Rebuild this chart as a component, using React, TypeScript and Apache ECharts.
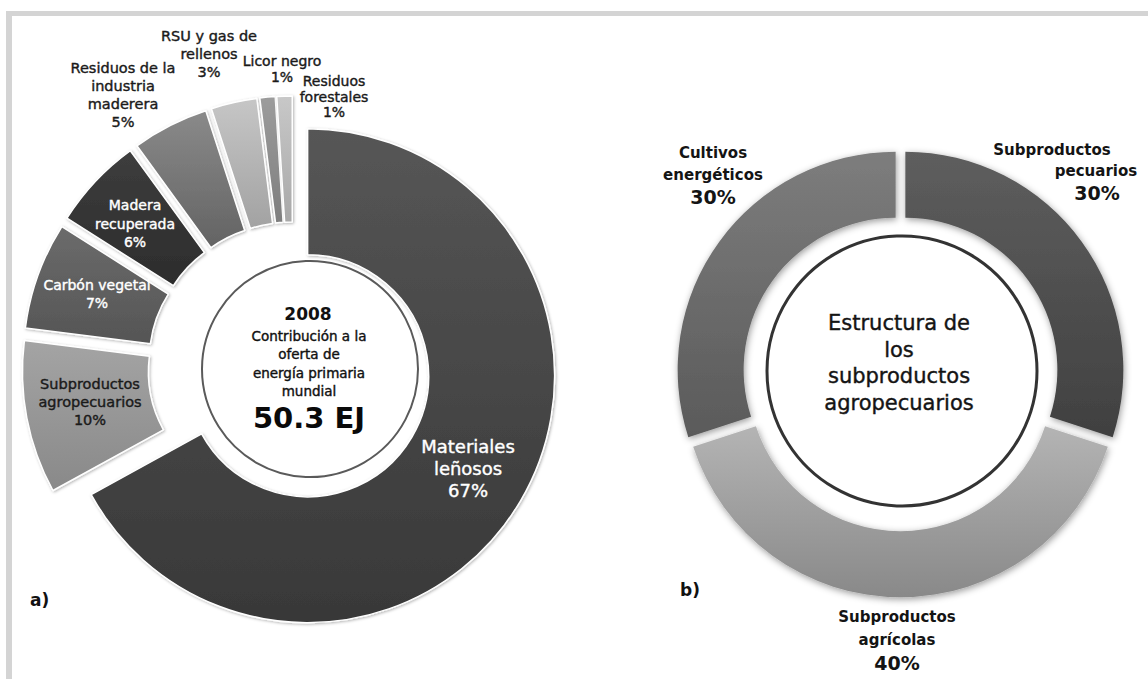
import React, { useEffect, useRef } from "react";
import * as echarts from "echarts";

// ---------- data ----------
const woodCategories = [
  "Materiales leñosos",
  "Subproductos agropecuarios",
  "Carbón vegetal",
  "Madera recuperada",
  "Residuos de la industria maderera",
  "RSU y gas de rellenos",
  "Licor negro",
  "Residuos forestales",
];
const woodLabelText = [
  "Materiales\nleñosos",
  "Subproductos\nagropecuarios",
  "Carbón vegetal",
  "Madera\nrecuperada",
  "Residuos de la\nindustria\nmaderera",
  "RSU y gas de\nrellenos",
  "Licor negro",
  "Residuos\nforestales",
];
const woodShares = [67, 10, 7, 6, 5, 3, 1, 1];

const agroCategories = ["Subproductos pecuarios", "Subproductos agrícolas", "Cultivos energéticos"];
const agroLabelText = ["Subproductos\npecuarios", "Subproductos\nagrícolas", "Cultivos\nenergéticos"];
const agroShares = [30, 40, 30];

const centerAYear = "2008";
const centerALines = ["Contribución a la", "oferta de", "energía primaria", "mundial"];
const centerATotal = "50.3 EJ";
const centerBLines = ["Estructura de", "los", "subproductos", "agropecuarios"];
const panelLetters = ["a)", "b)"];

// ---------- styles ----------
const FONT = "'DejaVu Sans', 'Liberation Sans', sans-serif";
const woodColors: [string, string][] = [
  ["#565656", "#383838"],
  ["#a4a4a4", "#898989"],
  ["#6b6b6b", "#555555"],
  ["#3d3d3d", "#2c2c2c"],
  ["#8a8a8a", "#636363"],
  ["#c6c6c6", "#a2a2a2"],
  ["#9c9c9c", "#7e7e7e"],
  ["#c8c8c8", "#a8a8a8"],
];
const woodTextColors = ["#ffffff", "#1a1a1a", "#ffffff", "#ffffff", "#1a1a1a", "#1a1a1a", "#1a1a1a", "#1a1a1a"];
const woodFontSizes = [18, 14.5, 14, 14, 14.5, 14.5, 14, 14];
const woodLabelPos: [number, number, number][] = [
  // x, first line y, line height
  [468, 446, 22],
  [90, 384, 18],
  [97, 285, 17.5],
  [135, 205, 18.5],
  [123, 68, 18],
  [209, 36, 18],
  [282, 61, 16],
  [334, 81, 15.5],
];

const agroColors: [string, string][] = [
  ["#5e5e5e", "#404040"],
  ["#b4b4b4", "#898989"],
  ["#7d7d7d", "#5a5a5a"],
];
// per line: [x, y]
const agroLabelPos: [number, number][][] = [
  [[1052, 150], [1096, 171], [1097, 193]],
  [[897, 617], [897, 640], [897, 663]],
  [[713, 153], [713, 175], [713, 197]],
];

const grad = (c: [string, string]) =>
  new echarts.graphic.LinearGradient(0, 0, 0, 1, [
    { offset: 0, color: c[0] },
    { offset: 1, color: c[1] },
  ]);

export default function App() {
  const ref = useRef<HTMLDivElement>(null);

  useEffect(() => {
    if (!ref.current) return;
    const chart = echarts.init(ref.current, undefined, { renderer: "svg" });

    const hidden = { color: "rgba(0,0,0,0)", borderWidth: 0, shadowBlur: 0, shadowColor: "rgba(0,0,0,0)" };
    const restSum = woodShares.slice(1).reduce((a, b) => a + b, 0);
    const sliceStyle = {
      borderColor: "#ffffff",
      borderWidth: 1.5,
      shadowBlur: 3,
      shadowOffsetX: 1,
      shadowOffsetY: 1,
      shadowColor: "rgba(0,0,0,0.3)",
    };

    const heavy = (fill: string) => ({ stroke: fill, lineWidth: 0.4 });

    const graphics: any[] = [];
    // frame
    graphics.push({ type: "rect", shape: { x: 6, y: 11, width: 1142, height: 5 }, style: { fill: "#d4d4d4" } });
    graphics.push({ type: "rect", shape: { x: 6, y: 11, width: 6, height: 668 }, style: { fill: "#d4d4d4" } });
    // inner circles
    graphics.push({ type: "circle", shape: { cx: 310, cy: 369, r: 108 }, style: { fill: "#ffffff", stroke: "#5a5a5a", lineWidth: 2 } });
    graphics.push({ type: "circle", shape: { cx: 902, cy: 371, r: 135 }, style: { fill: "#ffffff", stroke: "#333333", lineWidth: 3 } });

    // wood labels
    woodCategories.forEach((_, i) => {
      const lines = woodLabelText[i].split("\n").concat([woodShares[i] + "%"]);
      const [x, y0, lh] = woodLabelPos[i];
      lines.forEach((t, j) => {
        graphics.push({
          type: "text",
          x,
          y: y0 + j * lh,
          z: 100,
          style: {
            text: t,
            fill: woodTextColors[i],
            font: `${woodFontSizes[i]}px ${FONT}`,
            align: "center",
            verticalAlign: "middle",
            ...heavy(woodTextColors[i]),
          },
        });
      });
    });

    // agro labels
    agroCategories.forEach((_, i) => {
      const lines = agroLabelText[i].split("\n").concat([agroShares[i] + "%"]);
      lines.forEach((t, j) => {
        const isPct = j === lines.length - 1;
        graphics.push({
          type: "text",
          x: agroLabelPos[i][j][0],
          y: agroLabelPos[i][j][1],
          z: 100,
          style: {
            text: t,
            fill: "#141414",
            font: `bold ${isPct ? 19 : 15}px ${FONT}`,
            align: "center",
            verticalAlign: "middle",
          },
        });
      });
    });

    // center a
    graphics.push({
      type: "text", x: 308, y: 314, z: 100,
      style: { text: centerAYear, fill: "#111", font: `bold 17px ${FONT}`, align: "center", verticalAlign: "middle" },
    });
    centerALines.forEach((t, j) => {
      graphics.push({
        type: "text", x: 309, y: 336 + j * 18.3, z: 100,
        style: { text: t, fill: "#111", font: `13.5px ${FONT}`, align: "center", verticalAlign: "middle", ...heavy("#111") },
      });
    });
    graphics.push({
      type: "text", x: 309, y: 418, z: 100,
      style: { text: centerATotal, fill: "#0a0a0a", font: `bold 29px ${FONT}`, align: "center", verticalAlign: "middle" },
    });
    // center b
    centerBLines.forEach((t, j) => {
      graphics.push({
        type: "text", x: 899, y: 323 + j * 26.5, z: 100,
        style: { text: t, fill: "#141414", font: `21px ${FONT}`, align: "center", verticalAlign: "middle", ...heavy("#141414") },
      });
    });
    // panel letters
    graphics.push({
      type: "text", x: 30, y: 600, z: 100,
      style: { text: panelLetters[0], fill: "#111", font: `bold 17px ${FONT}`, align: "left", verticalAlign: "middle" },
    });
    graphics.push({
      type: "text", x: 680, y: 590, z: 100,
      style: { text: panelLetters[1], fill: "#111", font: `bold 17px ${FONT}`, align: "left", verticalAlign: "middle" },
    });

    chart.setOption({
      animation: false,
      backgroundColor: "#ffffff",
      graphic: { elements: graphics },
      series: [
        {
          type: "pie",
          center: [293, 367],
          radius: [121, 247],
          startAngle: 90,
          clockwise: true,
          selectedMode: "multiple",
          selectedOffset: 17,
          label: { show: false },
          labelLine: { show: false },
          itemStyle: sliceStyle,
          data: [
            { name: woodCategories[0], value: woodShares[0], selected: true, itemStyle: { color: grad(woodColors[0]) } },
            { name: "resto", value: restSum, itemStyle: hidden },
          ],
        },
        {
          type: "pie",
          center: [293, 367],
          radius: [121, 247],
          startAngle: 90,
          clockwise: true,
          selectedMode: "multiple",
          selectedOffset: 24,
          label: { show: false },
          labelLine: { show: false },
          itemStyle: sliceStyle,
          data: [
            { name: "hueco", value: woodShares[0], itemStyle: hidden },
            ...woodShares.slice(1).map((v, k) => ({
              name: woodCategories[k + 1],
              value: v,
              selected: true,
              itemStyle: { color: grad(woodColors[k + 1]) },
            })),
          ],
        },
        {
          type: "pie",
          center: [900.5, 373.3],
          radius: [152, 218],
          startAngle: 90,
          clockwise: true,
          selectedMode: "multiple",
          selectedOffset: 6,
          label: { show: false },
          labelLine: { show: false },
          itemStyle: {
            borderWidth: 0,
            shadowBlur: 7,
            shadowOffsetX: 1,
            shadowOffsetY: 2,
            shadowColor: "rgba(0,0,0,0.4)",
          },
          data: agroShares.map((v, k) => ({
            name: agroCategories[k],
            value: v,
            selected: true,
            itemStyle: { color: grad(agroColors[k]) },
          })),
        },
      ],
    });

    return () => chart.dispose();
  }, []);

  return <div ref={ref} style={{ position: "absolute", left: 0, top: 0, width: 1148, height: 679 }} />;
}
